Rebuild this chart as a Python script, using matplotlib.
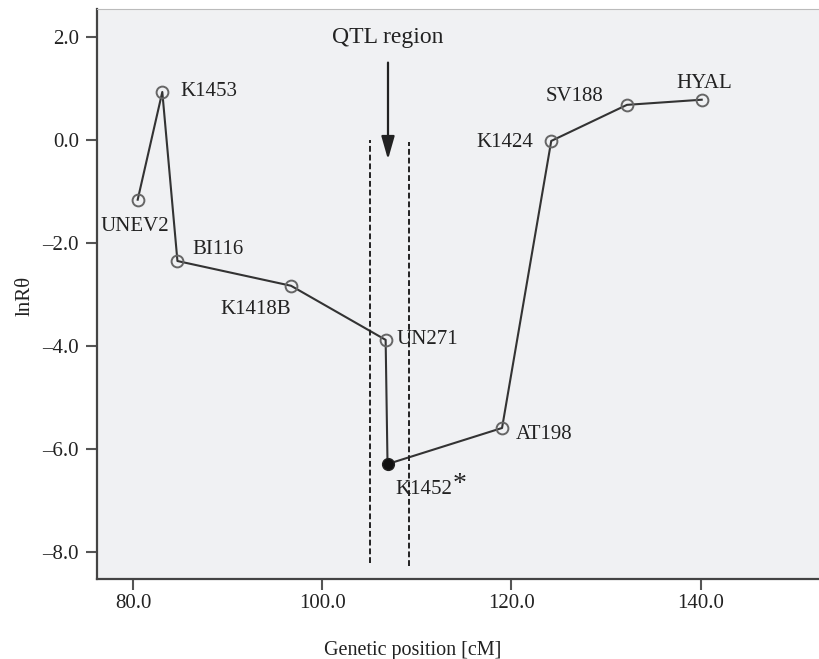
import matplotlib
matplotlib.use("Agg")
import matplotlib.pyplot as plt

# marker positions
markers = ["UNEV2", "K1453", "BI116", "K1418B", "UN271", "K1452",
           "AT198", "K1424", "SV188", "HYAL"]
position_cm = [80.5, 83.1, 84.7, 96.7, 106.7, 106.9, 119.0, 124.2, 132.2, 140.1]
ln_r_theta = [-1.16, 0.93, -2.35, -2.83, -3.88, -6.29, -5.59, -0.02, 0.68, 0.78]
peak_marker = "K1452"

qtl_bounds = [105.1, 109.2]
qtl_tops = [0.0, -0.05]
qtl_bottoms = [-8.2, -8.27]

x_ticks = [80.0, 100.0, 120.0, 140.0]
y_ticks = [2.0, 0.0, -2.0, -4.0, -6.0, -8.0]

# label offsets in points (dx, dy, ha)
label_offsets = {
    "UNEV2": (-2, -19, "center"),
    "K1453": (13, 0, "left"),
    "BI116": (11, 8, "left"),
    "K1418B": (0, -17, "right"),
    "UN271": (8, 0, "left"),
    "K1452": (6, -18, "left"),
    "AT198": (10, -5, "left"),
    "K1424": (-13, -1, "right"),
    "SV188": (-17, 6, "right"),
    "HYAL": (2, 12, "center"),
}

plt.rcParams['font.family'] = ['Liberation Serif', 'DejaVu Serif']
plt.rcParams['mathtext.fontset'] = 'stix'

fig = plt.figure(figsize=(8.2, 6.59), dpi=100)
ax = fig.add_axes([97 / 820, 80 / 659, 1 - 97 / 820, 570 / 659])
ax.set_facecolor('#f0f1f3')

ax.plot(position_cm, ln_r_theta, color='#333333', lw=1.5, zorder=3)
for name, x, y in zip(markers, position_cm, ln_r_theta):
    if name == peak_marker:
        ax.plot(x, y, 'o', ms=8.5, mfc='#111111', mec='#222222', zorder=4)
    else:
        ax.plot(x, y, 'o', ms=8.5, mfc='none', mec='#666666', mew=1.4, zorder=4)
    dx, dy, ha = label_offsets[name]
    ax.annotate(name, (x, y), xytext=(dx, dy), textcoords='offset points',
                ha=ha, va='center', fontsize=15, color='#222222', zorder=2)
    if name == peak_marker:
        ax.annotate('*', (x, y), xytext=(dx + 46, dy + 3), textcoords='offset points',
                    ha='center', va='center', fontsize=20, color='#222222')

for bx, top, bot in zip(qtl_bounds, qtl_tops, qtl_bottoms):
    ax.plot([bx, bx], [bot, top], color='#222222', lw=1.4, ls=(0, (3, 1.5)), zorder=5)

mid = sum(qtl_bounds) / 2 - 0.2
ax.annotate('', xy=(mid, -0.38), xytext=(mid, 1.5),
            arrowprops=dict(arrowstyle='-|>,head_length=1.4,head_width=0.4',
                            color='#222222', lw=1.6, shrinkA=0, shrinkB=0))
ax.text(mid, 1.98, 'QTL region', ha='center', va='center', fontsize=17, color='#222222')

ax.set_xlim(76.2, 152.6)
ax.set_ylim(-8.52, 2.54)
ax.set_xticks(x_ticks)
ax.set_xticklabels([f"{v:.1f}" for v in x_ticks])
ax.set_yticks(y_ticks)
ax.set_yticklabels([f"{v:.1f}".replace('-', '\u2013') for v in y_ticks])
ax.tick_params(direction='out', length=8, width=1.5, color='#555555',
               labelsize=15, labelcolor='#222222')
ax.tick_params(axis='x', pad=3)
ax.tick_params(axis='y', pad=5)

for side in ['left', 'bottom']:
    ax.spines[side].set_color('#444444')
    ax.spines[side].set_linewidth(1.6)
ax.spines['right'].set_visible(False)
ax.spines['top'].set_color('#bbbbbb')
ax.spines['top'].set_linewidth(0.8)

ax.set_xlabel('Genetic position [cM]', fontsize=14.5, color='#222222', va='center')
ax.xaxis.set_label_coords((413 - 97) / 723, -(650 - 579) / 570)
ax.set_ylabel('lnR\u03b8', fontsize=15, color='#222222', va='center')
ax.yaxis.set_label_coords(-(97 - 25) / 723, (579 - 296) / 570)

fig.savefig('out.png', dpi=100)
